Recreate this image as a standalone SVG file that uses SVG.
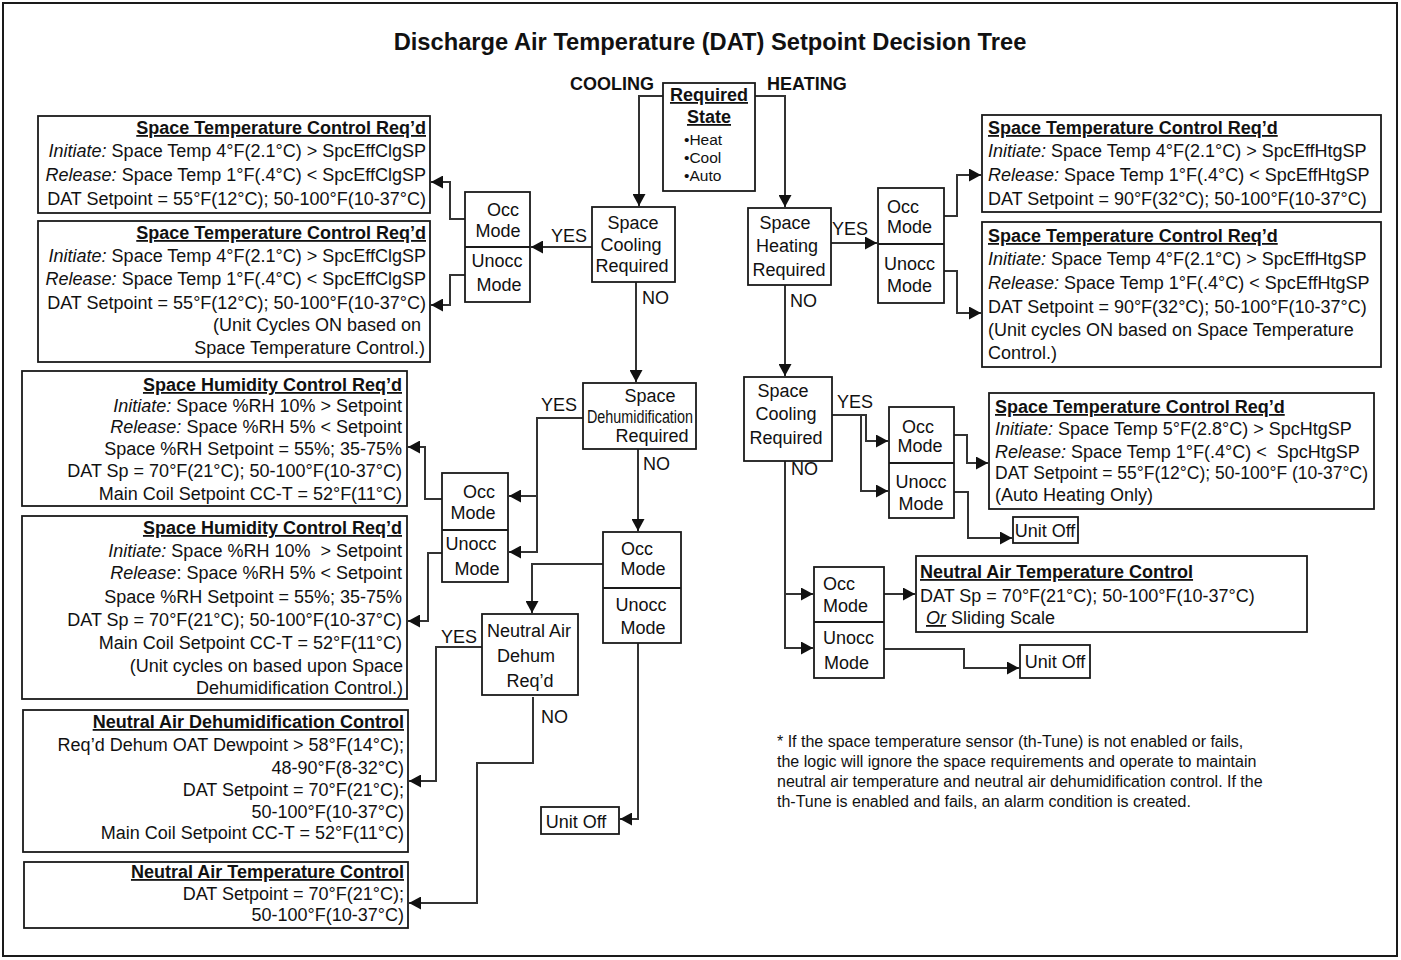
<svg xmlns="http://www.w3.org/2000/svg" width="1401" height="960" viewBox="0 0 1401 960">
<style>
.bx{fill:#fff;stroke:#1a1a1a;stroke-width:1.8}
text{font-family:"Liberation Sans",Arial,sans-serif;font-size:18px;fill:#111}
.h{font-weight:bold;text-decoration:underline}
.i{font-style:italic}
.c{text-anchor:middle}
.r{text-anchor:end}
.fn{font-size:16px}
.bul{font-size:15.5px}
.conn path{fill:none;stroke:#333;stroke-width:2}
</style>
<defs>
<marker id="ah" viewBox="0 0 12 13" refX="12" refY="6.5" markerWidth="12" markerHeight="13" markerUnits="userSpaceOnUse" orient="auto">
<path d="M0,0 L12,6.5 L0,13 Z" fill="#111"/>
</marker>
</defs>
<rect x="3" y="3" width="1394" height="953" fill="#fff" stroke="#1a1a1a" stroke-width="2"/>
<text x="710" y="50" class="c" style="font-weight:bold;font-size:23.7px">Discharge Air Temperature (DAT) Setpoint Decision Tree</text>
<text x="570" y="90" style="font-weight:bold">COOLING</text>
<text x="767" y="90" style="font-weight:bold">HEATING</text>

<g class="conn">
<path d="M663,96 H639 V206" marker-end="url(#ah)"/>
<path d="M755,96 H785 V207" marker-end="url(#ah)"/>
<path d="M592,247 H531" marker-end="url(#ah)"/>
<path d="M465,219 H450 V182 H431" marker-end="url(#ah)"/>
<path d="M465,275 H450 V305 H431" marker-end="url(#ah)"/>
<path d="M636,282 V382" marker-end="url(#ah)"/>
<path d="M831,243 H877" marker-end="url(#ah)"/>
<path d="M944,216 H957 V175 H981" marker-end="url(#ah)"/>
<path d="M944,271 H957 V313 H981" marker-end="url(#ah)"/>
<path d="M785,285 V376" marker-end="url(#ah)"/>
<path d="M583,418 H537 V552 H509" marker-end="url(#ah)"/>
<path d="M537,496 H509" marker-end="url(#ah)"/>
<path d="M442,499 H425 V447 H408" marker-end="url(#ah)"/>
<path d="M442,553 H428 V621 H408" marker-end="url(#ah)"/>
<path d="M638,449 V531" marker-end="url(#ah)"/>
<path d="M603,564 H532 V613" marker-end="url(#ah)"/>
<path d="M638,643 V819 H620" marker-end="url(#ah)"/>
<path d="M482,647 H436 V781 H409" marker-end="url(#ah)"/>
<path d="M533,697 V763 H477 V903 H409" marker-end="url(#ah)"/>
<path d="M832,415 H866 V441 H888" marker-end="url(#ah)"/>
<path d="M861,415 V491 H888" marker-end="url(#ah)"/>
<path d="M954,435 H967 V463 H988" marker-end="url(#ah)"/>
<path d="M954,492 H968 V538 H1012" marker-end="url(#ah)"/>
<path d="M785,461 V648 H813" marker-end="url(#ah)"/>
<path d="M785,594 H813" marker-end="url(#ah)"/>
<path d="M884,594 H915" marker-end="url(#ah)"/>
<path d="M884,649 H964 V668 H1019" marker-end="url(#ah)"/>
</g>

<g id="labels">
<text x="551" y="242">YES</text>
<text x="642" y="304">NO</text>
<text x="832" y="235">YES</text>
<text x="790" y="307">NO</text>
<text x="541" y="411">YES</text>
<text x="643" y="470">NO</text>
<text x="441" y="643">YES</text>
<text x="541" y="723">NO</text>
<text x="837" y="408">YES</text>
<text x="791" y="475">NO</text>
</g>

<g id="required-state">
<rect class="bx" x="663" y="83" width="92" height="108"/>
<text x="709" y="101" class="c h">Required</text>
<text x="709" y="123" class="c h">State</text>
<text x="684" y="145" class="bul">•Heat</text>
<text x="684" y="163" class="bul">•Cool</text>
<text x="684" y="181" class="bul">•Auto</text>
</g>

<g id="space-cooling-left">
<rect class="bx" x="592" y="207" width="83" height="75"/>
<text x="633" y="229" class="c">Space</text>
<text x="631" y="251" class="c">Cooling</text>
<text x="632" y="272" class="c">Required</text>
</g>

<g id="occ-unocc-cool">
<rect class="bx" x="465" y="192" width="65" height="110"/>
<path d="M465,247 H530" stroke="#1a1a1a" stroke-width="1.8"/>
<text x="503" y="216" class="c">Occ</text>
<text x="498" y="237" class="c">Mode</text>
<text x="497" y="267" class="c">Unocc</text>
<text x="499" y="291" class="c">Mode</text>
</g>

<g id="cool-occ-box">
<rect class="bx" x="38" y="116" width="392" height="97"/>
<text x="426" y="134" class="r h">Space Temperature Control Req’d</text>
<text x="426" y="157" class="r"><tspan class="i">Initiate:</tspan> Space Temp 4°F(2.1°C) &gt; SpcEffClgSP</text>
<text x="426" y="181" class="r"><tspan class="i">Release:</tspan> Space Temp 1°F(.4°C) &lt; SpcEffClgSP</text>
<text x="426" y="205" class="r">DAT Setpoint = 55°F(12°C); 50-100°F(10-37°C)</text>
</g>

<g id="cool-unocc-box">
<rect class="bx" x="38" y="221" width="392" height="141"/>
<text x="426" y="239" class="r h">Space Temperature Control Req’d</text>
<text x="426" y="262" class="r"><tspan class="i">Initiate:</tspan> Space Temp 4°F(2.1°C) &gt; SpcEffClgSP</text>
<text x="426" y="285" class="r"><tspan class="i">Release:</tspan> Space Temp 1°F(.4°C) &lt; SpcEffClgSP</text>
<text x="426" y="309" class="r">DAT Setpoint = 55°F(12°C); 50-100°F(10-37°C)</text>
<text x="421" y="331" class="r">(Unit Cycles ON based on</text>
<text x="425" y="354" class="r">Space Temperature Control.)</text>
</g>

<g id="space-heating">
<rect class="bx" x="748" y="208" width="83" height="77"/>
<text x="785" y="229" class="c">Space</text>
<text x="787" y="252" class="c">Heating</text>
<text x="789" y="276" class="c">Required</text>
</g>

<g id="occ-unocc-heat">
<rect class="bx" x="878" y="188" width="66" height="115"/>
<path d="M878,244 H944" stroke="#1a1a1a" stroke-width="1.8"/>
<text x="887" y="213">Occ</text>
<text x="887" y="233">Mode</text>
<text x="884" y="270">Unocc</text>
<text x="887" y="292">Mode</text>
</g>

<g id="heat-occ-box">
<rect class="bx" x="982" y="115" width="399" height="97"/>
<text x="988" y="134" class="h">Space Temperature Control Req’d</text>
<text x="988" y="157"><tspan class="i">Initiate:</tspan> Space Temp 4°F(2.1°C) &gt; SpcEffHtgSP</text>
<text x="988" y="181"><tspan class="i">Release:</tspan> Space Temp 1°F(.4°C) &lt; SpcEffHtgSP</text>
<text x="988" y="205">DAT Setpoint = 90°F(32°C); 50-100°F(10-37°C)</text>
</g>

<g id="heat-unocc-box">
<rect class="bx" x="982" y="222" width="399" height="145"/>
<text x="988" y="242" class="h">Space Temperature Control Req’d</text>
<text x="988" y="265"><tspan class="i">Initiate:</tspan> Space Temp 4°F(2.1°C) &gt; SpcEffHtgSP</text>
<text x="988" y="289"><tspan class="i">Release:</tspan> Space Temp 1°F(.4°C) &lt; SpcEffHtgSP</text>
<text x="988" y="313">DAT Setpoint = 90°F(32°C); 50-100°F(10-37°C)</text>
<text x="988" y="336">(Unit cycles ON based on Space Temperature</text>
<text x="988" y="359">Control.)</text>
</g>

<g id="space-dehum">
<rect class="bx" x="583" y="383" width="113" height="66"/>
<text x="650" y="402" class="c">Space</text>
<text x="640" y="423" class="c" textLength="106" lengthAdjust="spacingAndGlyphs">Dehumidification</text>
<text x="652" y="442" class="c">Required</text>
</g>

<g id="occ-unocc-hum">
<rect class="bx" x="442" y="473" width="66" height="109"/>
<path d="M442,530 H508" stroke="#1a1a1a" stroke-width="1.8"/>
<text x="479" y="498" class="c">Occ</text>
<text x="473" y="519" class="c">Mode</text>
<text x="471" y="550" class="c">Unocc</text>
<text x="477" y="575" class="c">Mode</text>
</g>

<g id="hum-occ-box">
<rect class="bx" x="22" y="371" width="385" height="135"/>
<text x="402" y="391" class="r h">Space Humidity Control Req’d</text>
<text x="402" y="412" class="r"><tspan class="i">Initiate:</tspan> Space %RH 10% &gt; Setpoint</text>
<text x="402" y="433" class="r"><tspan class="i">Release:</tspan> Space %RH 5% &lt; Setpoint</text>
<text x="402" y="455" class="r">Space %RH Setpoint = 55%; 35-75%</text>
<text x="402" y="477" class="r">DAT Sp = 70°F(21°C); 50-100°F(10-37°C)</text>
<text x="402" y="500" class="r">Main Coil Setpoint CC-T = 52°F(11°C)</text>
</g>

<g id="hum-unocc-box">
<rect class="bx" x="22" y="516" width="385" height="183"/>
<text x="402" y="534" class="r h">Space Humidity Control Req’d</text>
<text x="402" y="557" class="r" xml:space="preserve"><tspan class="i">Initiate:</tspan> Space %RH 10%  &gt; Setpoint</text>
<text x="402" y="579" class="r"><tspan class="i">Release</tspan>: Space %RH 5% &lt; Setpoint</text>
<text x="402" y="603" class="r">Space %RH Setpoint = 55%; 35-75%</text>
<text x="402" y="626" class="r">DAT Sp = 70°F(21°C); 50-100°F(10-37°C)</text>
<text x="402" y="649" class="r">Main Coil Setpoint CC-T = 52°F(11°C)</text>
<text x="403" y="672" class="r">(Unit cycles on based upon Space</text>
<text x="403" y="694" class="r">Dehumidification Control.)</text>
</g>

<g id="occ-unocc-center">
<rect class="bx" x="603" y="532" width="78" height="111"/>
<path d="M603,588 H681" stroke="#1a1a1a" stroke-width="1.8"/>
<text x="637" y="555" class="c">Occ</text>
<text x="643" y="575" class="c">Mode</text>
<text x="641" y="611" class="c">Unocc</text>
<text x="643" y="634" class="c">Mode</text>
</g>

<g id="neutral-air-dehum-req">
<rect class="bx" x="482" y="614" width="96" height="81"/>
<text x="529" y="637" class="c">Neutral Air</text>
<text x="526" y="662" class="c">Dehum</text>
<text x="530" y="687" class="c">Req’d</text>
</g>

<g id="unit-off-center">
<rect class="bx" x="541" y="807" width="78" height="27"/>
<text x="576" y="828" class="c">Unit Off</text>
</g>

<g id="nad-control-box">
<rect class="bx" x="23" y="710" width="385" height="142"/>
<text x="404" y="728" class="r h">Neutral Air Dehumidification Control</text>
<text x="404" y="751" class="r">Req’d Dehum OAT Dewpoint &gt; 58°F(14°C);</text>
<text x="404" y="774" class="r">48-90°F(8-32°C)</text>
<text x="404" y="796" class="r">DAT Setpoint = 70°F(21°C);</text>
<text x="404" y="818" class="r">50-100°F(10-37°C)</text>
<text x="404" y="839" class="r">Main Coil Setpoint CC-T = 52°F(11°C)</text>
</g>

<g id="nat-control-left">
<rect class="bx" x="24" y="862" width="384" height="66"/>
<text x="404" y="878" class="r h">Neutral Air Temperature Control</text>
<text x="404" y="900" class="r">DAT Setpoint = 70°F(21°C);</text>
<text x="404" y="921" class="r">50-100°F(10-37°C)</text>
</g>

<g id="space-cooling-right">
<rect class="bx" x="744" y="377" width="88" height="84"/>
<text x="783" y="397" class="c">Space</text>
<text x="786" y="420" class="c">Cooling</text>
<text x="786" y="444" class="c">Required</text>
</g>

<g id="occ-unocc-right1">
<rect class="bx" x="889" y="407" width="65" height="111"/>
<path d="M889,463 H954" stroke="#1a1a1a" stroke-width="1.8"/>
<text x="918" y="433" class="c">Occ</text>
<text x="920" y="452" class="c">Mode</text>
<text x="921" y="488" class="c">Unocc</text>
<text x="921" y="510" class="c">Mode</text>
</g>

<g id="auto-heat-box">
<rect class="bx" x="989" y="393" width="385" height="116"/>
<text x="995" y="413" class="h">Space Temperature Control Req’d</text>
<text x="995" y="435"><tspan class="i">Initiate:</tspan> Space Temp 5°F(2.8°C) &gt; SpcHtgSP</text>
<text x="995" y="458" xml:space="preserve"><tspan class="i">Release:</tspan> Space Temp 1°F(.4°C) &lt;  SpcHtgSP</text>
<text x="995" y="479" textLength="373" lengthAdjust="spacingAndGlyphs">DAT Setpoint = 55°F(12°C); 50-100°F (10-37°C)</text>
<text x="995" y="501">(Auto Heating Only)</text>
</g>

<g id="unit-off-right1">
<rect class="bx" x="1013" y="517" width="65" height="26"/>
<text x="1045" y="537" class="c">Unit Off</text>
</g>

<g id="occ-unocc-right2">
<rect class="bx" x="814" y="567" width="70" height="111"/>
<path d="M814,622 H884" stroke="#1a1a1a" stroke-width="1.8"/>
<text x="823" y="590">Occ</text>
<text x="823" y="612">Mode</text>
<text x="823" y="644">Unocc</text>
<text x="824" y="669">Mode</text>
</g>

<g id="nat-control-right">
<rect class="bx" x="916" y="556" width="391" height="76"/>
<text x="920" y="578" class="h">Neutral Air Temperature Control</text>
<text x="920" y="602">DAT Sp = 70°F(21°C); 50-100°F(10-37°C)</text>
<text x="926" y="624"><tspan class="i" style="text-decoration:underline">Or</tspan> Sliding Scale</text>
</g>

<g id="unit-off-right2">
<rect class="bx" x="1020" y="645" width="70" height="33"/>
<text x="1055" y="668" class="c">Unit Off</text>
</g>

<g id="footnote">
<text x="777" y="747" class="fn">* If the space temperature sensor (th-Tune) is not enabled or fails,</text>
<text x="777" y="767" class="fn">the logic will ignore the space requirements and operate to maintain</text>
<text x="777" y="787" class="fn">neutral air temperature and neutral air dehumidification control. If the</text>
<text x="777" y="807" class="fn">th-Tune is enabled and fails, an alarm condition is created.</text>
</g>
</svg>
